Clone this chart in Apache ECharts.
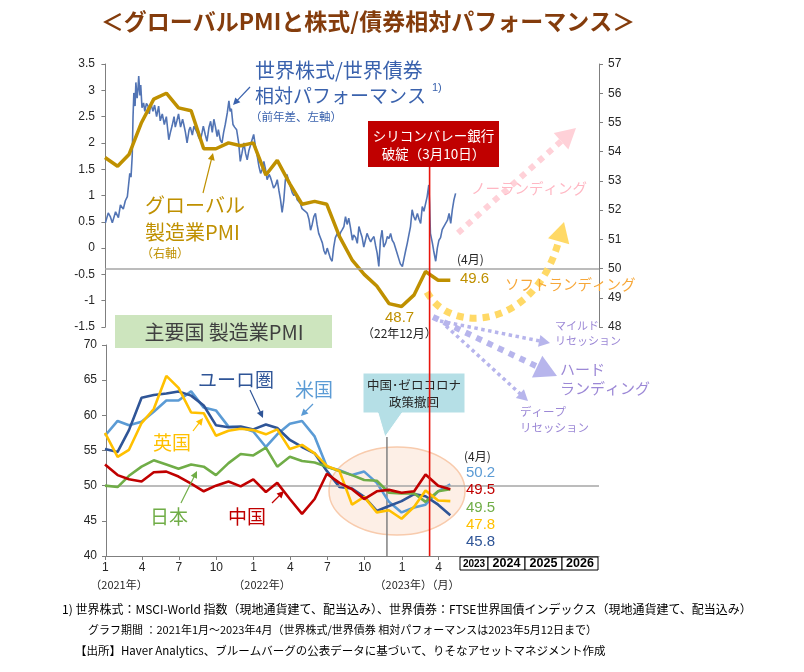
<!DOCTYPE html>
<html><head><meta charset="utf-8">
<script src="https://cdn.jsdelivr.net/npm/echarts@6/dist/echarts.min.js"></script>
<style>html,body{margin:0;padding:0;background:#fff}#c{width:804px;height:672px}</style>
</head><body><div id="c"></div>
<script>
// ---------- DATA ----------
const pmiMonths = ['2020-12','2021-01','2021-02','2021-03','2021-04','2021-05','2021-06','2021-07','2021-08','2021-09','2021-10','2021-11','2021-12','2022-01','2022-02','2022-03','2022-04','2022-05','2022-06','2022-07','2022-08','2022-09','2022-10','2022-11','2022-12','2023-01','2023-02','2023-03','2023-04'];
const globalPMI = [53.8,53.5,53.9,55.0,55.8,56.0,55.5,55.4,54.1,54.1,54.3,54.2,54.3,53.2,53.7,52.9,52.2,52.3,52.2,51.1,50.3,49.8,49.4,48.8,48.7,49.1,49.9,49.6,49.6];
const usPMI    = [57.1,59.2,58.6,59.1,60.5,62.1,62.1,63.4,61.1,60.7,58.4,58.3,57.7,55.5,57.3,58.8,59.2,57.0,52.7,52.2,51.5,52.0,50.4,47.7,46.2,46.9,47.3,49.2,50.2];
const euroPMI  = [55.2,54.8,57.9,62.5,62.9,63.1,63.4,62.8,61.4,58.6,58.3,58.4,58.0,58.7,58.2,56.5,55.5,54.6,52.1,49.8,49.6,48.4,46.4,47.1,47.8,48.8,48.5,47.3,45.8];
const japanPMI = [50.0,49.8,51.4,52.7,53.6,53.0,52.4,53.0,52.7,51.5,53.2,54.5,54.3,55.4,52.7,54.1,53.5,53.3,52.7,52.1,51.5,50.8,50.7,49.0,48.9,48.9,47.7,49.2,49.5];
const ukPMI    = [57.5,54.1,55.1,58.9,60.9,65.6,63.9,60.4,60.3,57.1,57.8,58.1,57.9,57.3,58.0,55.2,55.8,54.6,52.8,52.1,47.3,48.4,46.2,46.5,45.3,47.0,49.3,47.9,47.8];
const chinaPMI = [53.0,51.5,50.9,50.6,51.9,52.0,51.3,50.3,49.2,50.0,50.6,49.9,50.9,49.1,50.4,48.1,46.0,48.1,51.7,50.4,49.5,48.1,49.2,49.4,49.0,49.2,51.6,50.0,49.5];

// Stocks/Bonds relative performance (YoY diff), day offsets from 2021-01-01
const blueDay = [0,7,12,17,25,32,37,44,49,54,57,60,63,66,68,70,73,75,78,80,82,85,87,90,94,97,101,105,108,112,117,121,126,131,135,140,145,150,156,160,164,169,172,176,180,185,190,193,197,201,206,209,214,218,222,226,230,234,238,241,246,250,255,259,263,267,271,275,278,283,287,291,295,300,304,307,310,314,318,323,328,332,336,341,345,349,353,357,361,365,369,374,378,382,386,390,394,398,403,406,410,414,419,423,427,431,435,439,443,447,452,456,460,464,468,472,476,480,484,488,492,497,501,505,509,513,517,521,525,529,534,538,542,546,550,554,558,562,566,571,575,579,583,587,591,595,599,603,608,611,616,620,624,628,632,636,640,644,648,653,657,661,665,669,673,677,681,685,690,694,698,702,706,710,714,718,722,726,731,735,739,743,747,751,755,759,763,768,772,776,780,784,788,792,796,798,800,805,808,813,817,821,825,829,833,837,842,846,850,854,858,862];
const blueVal = [0.48,0.67,0.6,0.48,0.69,0.58,0.82,0.74,0.9,0.98,1.2,1.42,1.35,1.75,2.5,2.95,2.7,3.15,2.85,3.0,3.27,2.9,3.1,2.67,2.76,2.6,2.75,2.7,2.55,2.75,2.6,2.72,2.5,2.7,2.42,2.55,2.35,2.5,2.06,2.2,2.32,2.5,2.3,2.42,2.55,2.3,2.45,2.35,2.2,2.0,2.25,2.3,2.15,2.32,2.25,2.19,2.1,2.05,2.2,2.32,2.15,2.03,2.3,2.41,2.2,2.45,2.3,2.12,2.25,2.05,2.0,2.2,2.35,2.57,2.8,2.6,2.65,2.35,2.3,2.25,2.0,1.65,1.8,2.0,1.8,1.68,1.85,1.95,2.06,2.16,1.95,1.74,1.55,1.42,1.5,1.65,1.5,1.3,1.4,1.35,1.25,1.14,1.2,1.3,1.1,0.92,0.68,0.9,1.3,1.4,1.25,1.15,1.05,1.0,1.05,0.92,0.95,0.85,0.75,0.76,0.7,0.66,0.55,0.34,0.45,0.6,0.66,0.45,0.28,0.2,0.1,-0.05,-0.12,0.0,0.02,-0.2,-0.25,0.02,0.2,0.28,0.2,0.3,0.35,0.41,0.6,0.45,0.57,0.4,0.15,0.25,0.2,0.09,0.41,0.3,0.2,0.02,0.15,0.28,0.2,0.12,0.18,0.22,0.05,-0.1,-0.35,0.15,0.34,0.02,0.1,0.22,0.18,0.28,0.15,0.1,0.0,-0.1,-0.2,-0.3,-0.35,-0.2,-0.05,0.09,0.25,0.41,0.73,0.6,0.53,0.66,0.55,0.47,0.79,0.7,0.73,0.98,1.2,0.85,0.28,0.09,-0.05,-0.25,0.0,0.15,0.2,0.35,0.41,0.38,0.53,0.66,0.47,0.73,0.92,1.04];

const xTickMonths = ['2021-01','2021-04','2021-07','2021-10','2022-01','2022-04','2022-07','2022-10','2023-01','2023-04'];
const yearBoxes = ['2023','2024','2025','2026'];
const endLabels = ['50.2','49.5','49.5','47.8','45.8'];

// ---------- helpers (x axis = days since 2021-01-01) ----------
const DAY = 86400000, T0 = Date.UTC(2021,0,1);
const toDay = ts => Math.round((ts - T0)/DAY);
function monthEnd(s){const [y,m]=s.split('-').map(Number);return toDay(Date.UTC(y,m,0));}
function monthStart(s){const [y,m]=s.split('-').map(Number);return toDay(Date.UTC(y,m-1,1));}
const pairs = arr => pmiMonths.map((m,i)=>[monthEnd(m),arr[i]]);
const blueData = blueDay.map((d,i)=>[d, blueVal[i]]);
const tickVals = xTickMonths.map(monthStart);
const xMin = toDay(Date.UTC(2020,11,31)), xMax = toDay(Date.UTC(2024,3,30));
const CJK = '"Noto Sans CJK JP", sans-serif';
const LAT = '"Liberation Sans", Arial, sans-serif';
const AX = '#7f7f7f', LBL = '#262626';

const chart = echarts.init(document.getElementById('c'));
const lowSeries = (name, data, color, z) => ({name, type:'line', xAxisIndex:1, yAxisIndex:2, data:pairs(data), showSymbol:false, symbol:'none', z, lineStyle:{color, width:2.6}, itemStyle:{color}});

const option = {
  animation:false,
  textStyle:{fontFamily:LAT},
  grid:[{left:105,right:205,top:64,height:263},{left:105,right:205,top:345,height:211}],
  xAxis:[
    {type:'value', gridIndex:0, min:xMin, max:xMax, show:false, splitLine:{show:false}},
    {type:'value', gridIndex:1, min:xMin, max:xMax,
     axisLine:{show:true,onZero:false,lineStyle:{color:AX,width:1}},
     axisTick:{show:true,customValues:tickVals, length:4, lineStyle:{color:AX}},
     axisLabel:{customValues:tickVals, formatter:v=>String(new Date(T0+v*DAY).getUTCMonth()+1), color:LBL, fontSize:12, margin:6, fontFamily:LAT},
     splitLine:{show:false}}
  ],
  yAxis:[
    {type:'value', gridIndex:0, position:'left', offset:2, min:-1.5, max:3.5, interval:0.5,
     axisLine:{show:true,lineStyle:{color:AX}}, axisTick:{show:true,length:4,lineStyle:{color:AX}},
     axisLabel:{color:LBL,fontSize:12,margin:8,fontFamily:LAT}, splitLine:{show:false}},
    {type:'value', gridIndex:0, position:'right', min:48, max:57, interval:1,
     axisLine:{show:true,lineStyle:{color:AX}}, axisTick:{show:true,length:4,lineStyle:{color:AX}},
     axisLabel:{color:LBL,fontSize:12,margin:9,fontFamily:LAT}, splitLine:{show:false}},
    {type:'value', gridIndex:1, position:'left', offset:-1, min:40, max:70, interval:5,
     axisLine:{show:true,lineStyle:{color:AX}}, axisTick:{show:true,length:4,lineStyle:{color:AX}},
     axisLabel:{color:LBL,fontSize:12,margin:9,fontFamily:LAT}, splitLine:{show:false}}
  ],
  series:[
    {name:'rel', type:'line', xAxisIndex:0, yAxisIndex:0, data:blueData, showSymbol:false, symbol:'none', z:3,
     lineStyle:{color:'#5274B4', width:1.6}},
    {name:'global', type:'line', xAxisIndex:0, yAxisIndex:1, data:pairs(globalPMI), showSymbol:false, symbol:'none', z:4,
     lineStyle:{color:'#BF9000', width:3.5},
     markLine:{silent:true, symbol:'none', label:{show:false}, lineStyle:{color:'#a6a6a6',width:1.5,type:'solid'}, data:[{yAxis:50}]}},
    Object.assign(lowSeries('us', usPMI, '#5B9BD5', 3), {markLine:{silent:true, symbol:'none', label:{show:false}, lineStyle:{color:'#a6a6a6',width:1.5,type:'solid'}, data:[{yAxis:50}]}}),
    lowSeries('euro', euroPMI, '#2F5597', 4),
    lowSeries('japan', japanPMI, '#70AD47', 5),
    lowSeries('uk', ukPMI, '#FFC000', 6),
    lowSeries('china', chinaPMI, '#C00000', 7)
  ]
};
chart.setOption(option);

// ---------- annotations ----------
function T(text,x,y,size,color,o){o=o||{};const al=o.align||'left';return {type:'text',z:o.z||50,style:{text,x,y,fill:color,font:(o.weight||'normal')+' '+size+'px '+(o.fam||CJK),align:al,verticalAlign:'middle',textAlign:al,textVerticalAlign:'middle'}};}
function L(x1,y1,x2,y2,color,w,dash,z){const st={stroke:color,lineWidth:w,lineCap:'butt'};if(dash)st.lineDash=dash;return {type:'line',z:z||40,shape:{x1,y1,x2,y2},style:st};}
function head(x1,y1,x2,y2,len,hw,color,z){const dx=x2-x1,dy=y2-y1,d=Math.hypot(dx,dy),ux=dx/d,uy=dy/d;const bx=x2-ux*len,by=y2-uy*len;return {type:'polygon',z:z||40,shape:{points:[[x2,y2],[bx-uy*hw,by+ux*hw],[bx+uy*hw,by-ux*hw]]},style:{fill:color}};}
function arrow(x1,y1,x2,y2,color,w,dash,len,hw){const dx=x2-x1,dy=y2-y1,d=Math.hypot(dx,dy);const bx=x2-dx/d*len*0.85,by=y2-dy/d*len*0.85;return [L(x1,y1,bx,by,color,w,dash),head(x1,y1,x2,y2,len,hw,color)];}

const xSVB = chart.convertToPixel({xAxisIndex:0}, toDay(Date.UTC(2023,2,10)));
const xCN = chart.convertToPixel({xAxisIndex:1}, toDay(Date.UTC(2022,10,25)));
const yLowBase = chart.convertToPixel({yAxisIndex:2}, 40);

const g = [];
g.push(T('＜グローバルPMIと株式/債券相対パフォーマンス＞', 368, 21, 23, '#843C0C', {align:'center', weight:'bold'}));

g.push({type:'ellipse', z:1, shape:{cx:397, cy:491, rx:68, ry:44}, style:{fill:'rgba(251,224,205,0.5)', stroke:'#F8CBAD', lineWidth:1.5}});

g.push(T('世界株式/世界債券', 255, 70, 20, '#3A62AD'));
g.push(T('相対パフォーマンス', 255, 96, 19, '#3A62AD'));
g.push(T('1)', 432, 88, 11, '#3A62AD', {fam:LAT}));
g.push(T('（前年差、左軸）', 250, 117, 11.5, '#3A62AD'));
g.push(...arrow(250,87,233,105,'#3A62AD',1.2,null,7,3.5));

g.push(T('グローバル', 145, 205, 20, '#BF9000'));
g.push(T('製造業PMI', 145, 232, 20, '#BF9000'));
g.push(T('（右軸）', 141, 253, 12, '#BF9000'));
g.push(...arrow(203,193,213,153,'#BF9000',1.2,null,7,3.5));

g.push({type:'rect', z:45, shape:{x:368,y:121,width:131,height:46}, style:{fill:'#C00000'}});
g.push(T('シリコンバレー銀行', 433.5, 136, 13.5, '#ffffff', {align:'center', z:46}));
g.push(T('破綻（3月10日）', 433.5, 154, 13.5, '#ffffff', {align:'center', z:46}));
g.push(L(xSVB,167,xSVB,yLowBase,'#E8140C',1.6,null,45));

g.push(T('(4月)', 457, 259, 12, '#262626'));
g.push(T('49.6', 460, 279, 15, '#BF9000', {fam:LAT}));
g.push(T('48.7', 385, 318, 15, '#BF9000', {fam:LAT}));
g.push(T('（22年12月）', 362, 333, 12, '#262626'));

g.push(...arrow(458,233,576,128,'#FFD1D8',6,[6,6],20,11));
g.push(T('ノーランディング', 471, 188, 14.5, '#FFB7C3'));
g.push({type:'bezierCurve', z:40, shape:{x1:427,y1:292,x2:559,y2:240,cpx1:450,cpy1:335,cpx2:535,cpy2:330}, style:{stroke:'#FFD966',lineWidth:7,lineDash:[7,6],fill:'none',lineCap:'butt'}});
g.push(head(559,240,564,222,20,11,'#FFD966'));
g.push(T('ソフトランディング', 505, 284, 14.5, '#F7A738'));

const PUR = '#B7B5EC', PURT = '#9C88D6';
g.push(...arrow(433,317,557,376,PUR,6,[6,6],22,12));
g.push(...arrow(440,321,550,343,PUR,3.5,[3.5,3.5],11,6));
g.push(...arrow(446,326,528,401,PUR,3.5,[3.5,3.5],11,6));
g.push(T('マイルド', 555, 326, 11, PURT));
g.push(T('リセッション', 555, 341, 11, PURT));
g.push(T('ハード', 560, 369, 15, PURT));
g.push(T('ランディング', 560, 388, 15, PURT));
g.push(T('ディープ', 520, 412, 11.5, PURT));
g.push(T('リセッション', 520, 428, 11.5, PURT));

g.push({type:'rect', z:30, shape:{x:115,y:315,width:217,height:33}, style:{fill:'#CDE5BE'}});
g.push(T('主要国 製造業PMI', 224, 332, 20, '#404040', {align:'center', z:31}));

g.push(T('ユーロ圏', 198, 380, 19, '#2F5597'));
g.push(...arrow(250,390,263,418,'#2F5597',1.2,null,7,3.5));
g.push(T('米国', 295, 390, 19, '#5B9BD5'));
g.push(...arrow(313,404,301,416,'#5B9BD5',1.2,null,7,3.5));
g.push(T('英国', 153, 443, 19, '#FFC000'));
g.push(...arrow(193,431,203,418,'#FFC000',1.2,null,7,3.5));
g.push(T('日本', 150, 517, 19, '#70AD47'));
g.push(...arrow(181,503,197,471,'#70AD47',1.2,null,7,3.5));
g.push(T('中国', 228, 517, 19, '#C00000'));
g.push(...arrow(272,503,284,491,'#C00000',1.2,null,7,3.5));

g.push({type:'polygon', z:30, shape:{points:[[363,373],[465,373],[465,413],[402,413],[385,437],[378,413],[363,413]]}, style:{fill:'#B5DFE6', stroke:'#ffffff', lineWidth:1}});
g.push(T('中国･ゼロコロナ', 414, 385, 12.5, '#262626', {align:'center', z:31}));
g.push(T('政策撤回', 414, 402, 12.5, '#262626', {align:'center', z:31}));
g.push(L(xCN,437,xCN,yLowBase,'#808080',1.5,null,2));

g.push(T('(4月)', 464, 456, 12, '#262626'));
const endColors = ['#5B9BD5','#C00000','#70AD47','#FFC000','#2F5597'];
endLabels.forEach((t,i)=>g.push(T(t, 466, 473+i*17.3, 15, endColors[i], {fam:LAT})));

g.push(T('（2021年）', 119, 585, 11, '#262626', {align:'center'}));
g.push(T('（2022年）', 262, 585, 11, '#262626', {align:'center'}));
g.push(T('（2023年）（月）', 417, 585, 11, '#262626', {align:'center'}));

const boxX = [460,488,525,562,598];
yearBoxes.forEach((t,i)=>{
  g.push({type:'rect', z:35, shape:{x:boxX[i], y:yLowBase+1, width:boxX[i+1]-boxX[i], height:13}, style:{fill:'#ffffff', stroke:'#000000', lineWidth:1}});
  g.push(T(t, (boxX[i]+boxX[i+1])/2, yLowBase+8, i===0?10:12.5, '#000000', {align:'center', fam:LAT, weight:'bold', z:36}));
});

g.push(T('1) 世界株式：MSCI-World 指数（現地通貨建て、配当込み）、世界債券：FTSE世界国債インデックス（現地通貨建て、配当込み）', 62, 609, 12, '#000000'));
g.push(T('グラフ期間 ：2021年1月～2023年4月（世界株式/世界債券 相対パフォーマンスは2023年5月12日まで）', 88, 630, 11, '#000000'));
g.push(T('【出所】Haver Analytics、ブルームバーグの公表データに基づいて、りそなアセットマネジメント作成', 75, 651, 11.5, '#000000'));

chart.setOption({graphic:{elements:g}});
</script>
</body></html>
